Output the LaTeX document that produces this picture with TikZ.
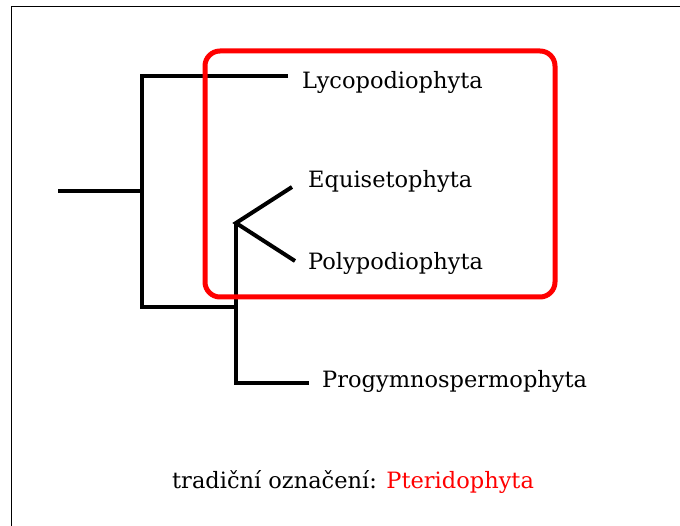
\documentclass[tikz,border=0pt]{standalone}
\usepackage{fontspec}
\setmainfont{DejaVu Serif}
\begin{document}
\begin{tikzpicture}[x=1pt,y=-1pt,
  branch/.style={line width=4pt, black, line join=miter, line cap=butt},
  taxon/.style={anchor=base west, inner sep=0pt, font=\fontsize{22.5}{27}\selectfont},
  clade/.style={draw=red, line width=5pt, rounded corners=15pt}]
\useasboundingbox (0,0) rectangle (680,526);
\fill[white] (0,0) rectangle (680,526);
\draw[line width=1pt] (11,526) -- (11,7) -- (680,7);
% tree coordinates
\coordinate (root) at (58,191);
\coordinate (j1) at (142,191);
\coordinate (jtop) at (142,76);
\coordinate (lycoend) at (288,76);
\coordinate (j2) at (142,307);
\coordinate (j3) at (236,307);
\coordinate (j4) at (236,223);
\coordinate (equiend) at (292,187);
\coordinate (polyend) at (295,261);
\coordinate (progj) at (236,383);
\coordinate (progend) at (309,383);
% branches
\draw[branch] (root) -- (j1);
\draw[branch] (lycoend) -- (jtop) -- (j2) -- (j3);
\draw[branch] (equiend) -- (j4) -- (polyend);
\draw[branch] (j4) -- (j3);
% clade box
\draw[clade] (205,51) rectangle (555,297);
\draw[branch] (j3) -- (progj) -- (progend);
% labels
\node[taxon] (lyco) at (302,89) {Lycopodiophyta};
\node[taxon] (equi) at (308,188) {Equisetophyta};
\node[taxon] (poly) at (308,270) {Polypodiophyta};
\node[taxon] (prog) at (322,388) {Progymnospermophyta};
\node[taxon] (trad) at (172,488) {tradiční označení: \textcolor{red}{Pteridophyta}};
\end{tikzpicture}
\end{document}
